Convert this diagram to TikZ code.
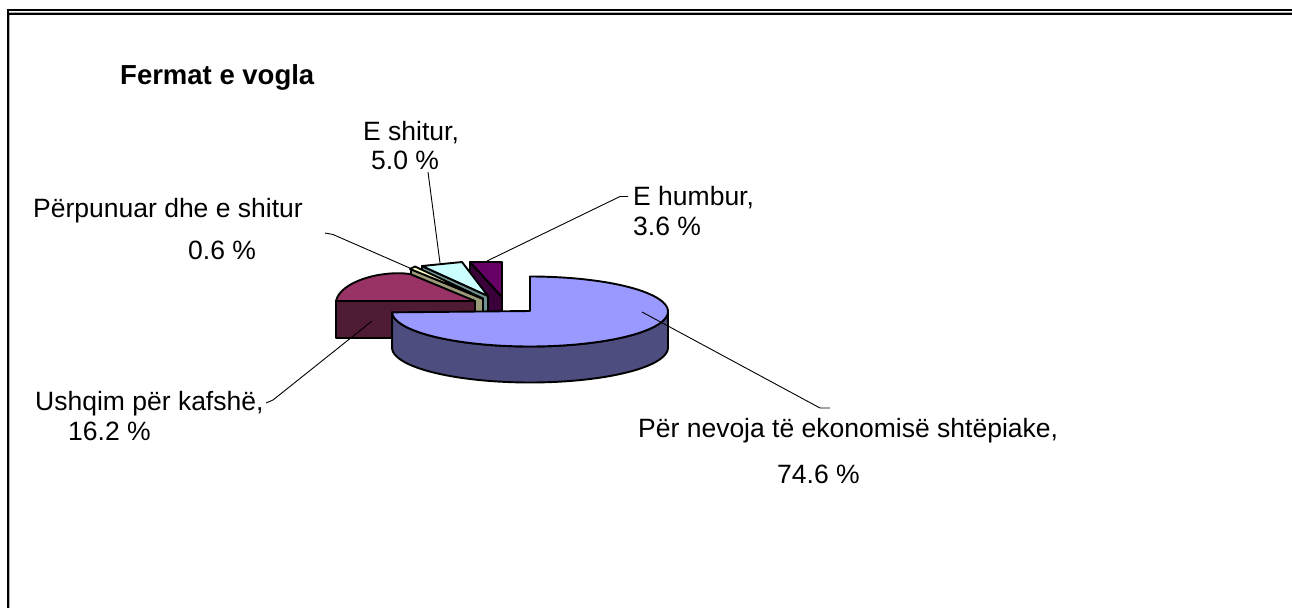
\documentclass[tikz,border=0pt]{standalone}
\usepackage{fontspec}
\setmainfont{Liberation Sans}
\definecolor{bluetop}{HTML}{9999FF}
\definecolor{blueside}{HTML}{4D4D80}
\definecolor{maroontop}{HTML}{993366}
\definecolor{maroonwall}{HTML}{4F1A34}
\definecolor{yellowtop}{HTML}{FFFFCC}
\definecolor{khakiwall}{HTML}{9A9A78}
\definecolor{cyantop}{HTML}{CCFFFF}
\definecolor{cyanwall}{HTML}{6F9393}
\definecolor{purptop}{HTML}{660066}
\definecolor{purpwall}{HTML}{3A003A}
\definecolor{framegray}{HTML}{B0B0B0}
\begin{document}
\begin{tikzpicture}[x=1pt,y=-1pt,
  edge/.style={draw=black,line width=1.9pt,line join=round},
  leader/.style={draw=black,line width=0.9pt},
  lbl/.style={anchor=base west,inner sep=0pt,font=\fontsize{26.5}{30}\selectfont},
]
\useasboundingbox (0,0) rectangle (1292,608);
\fill[white] (0,0) rectangle (1292,608);
% frame
\draw[line width=1.7pt] (7,10.2) -- (1292,10.2);
\draw[framegray,line width=0.8pt] (9,12) -- (1292,12);
\draw[line width=1.7pt] (9,13.8) -- (1292,13.8);
\draw[line width=2.3pt] (7.9,9.4) -- (7.9,608);
\draw[framegray,line width=0.8pt] (9.6,14.6) -- (9.6,608);

% title
\node[lbl,font=\fontsize{27.5}{30}\selectfont\bfseries] (title) at (120,84) {Fermat e vogla};

% pie slices (back to front)
\filldraw[edge,fill=purpwall] (470,262) -- (502,297) -- (502,312) -- (470,312) -- cycle;
\filldraw[edge,fill=purptop] (470,262) -- (502,262) -- (502,297) -- cycle;
\filldraw[edge,fill=cyanwall] (422,266) -- (488,296) -- (488,312) -- (422,312) -- cycle;
\filldraw[edge,fill=cyantop] (422,266) -- (462,262) -- (488,296) -- cycle;
\filldraw[edge,fill=khakiwall] (411,269) -- (483,299) -- (483,312) -- (411,312) -- cycle;
\filldraw[edge,fill=yellowtop] (410,269) -- (415,266.5) -- (483,298.5) -- cycle;
\filldraw[edge,fill=maroonwall] (336,301) -- (475,301) -- (475,338) -- (336,338) -- cycle;
\filldraw[edge,fill=maroontop] (336,301) .. controls (340,282) and (380,270) .. (410,274) -- (475,301) -- cycle;
\filldraw[edge,fill=blueside] plot[domain=0:178.6,samples=60] ({530+138*cos(\x)},{311.5+35*sin(\x)}) -- plot[domain=178.6:0,samples=60] ({530+138*cos(\x)},{347.5+35*sin(\x)}) -- cycle;
\filldraw[edge,fill=bluetop] (530,311) -- (530,276.5) -- plot[domain=-90:178.6,samples=90] ({530+138*cos(\x)},{311.5+35*sin(\x)}) -- cycle;

% labels
\node[lbl] (eshitur) at (363,140) {E shitur,};
\node[lbl] (eshiturv) at (371,169) {5.0 \%};
\node[lbl] (ehumbur) at (633,205) {E humbur,};
\node[lbl] (ehumburv) at (633,235) {3.6 \%};
\node[lbl] (perp) at (33,217) {Përpunuar dhe e shitur};
\node[lbl] (perpv) at (188,259) {0.6 \%};
\node[lbl] (ushq) at (35,410) {Ushqim për kafshë,};
\node[lbl] (ushqv) at (68,440) {16.2 \%};
\node[lbl] (nev) at (638,437) {Për nevoja të ekonomisë shtëpiake,};
\node[lbl] (nevv) at (777,483) {74.6 \%};

% leader lines
\coordinate (eshA) at (428,172);
\coordinate (eshB) at (440,263);
\coordinate (perA) at (325,233);
\coordinate (perB) at (333,234.5);
\coordinate (perC) at (412,269);
\coordinate (humA) at (628,196.5);
\coordinate (humB) at (620,196.5);
\coordinate (humC) at (487,261);
\coordinate (ushA) at (266,403);
\coordinate (ushB) at (273,400);
\coordinate (ushC) at (372,321);
\coordinate (nevA) at (830,408);
\coordinate (nevB) at (820,408);
\coordinate (nevC) at (642,312);
\draw[leader] (eshA) -- (eshB);
\draw[leader] (perA) -- (perB) -- (perC);
\draw[leader] (humA) -- (humB) -- (humC);
\draw[leader] (ushA) -- (ushB) -- (ushC);
\draw[leader] (nevA) -- (nevB) -- (nevC);
\end{tikzpicture}
\end{document}
